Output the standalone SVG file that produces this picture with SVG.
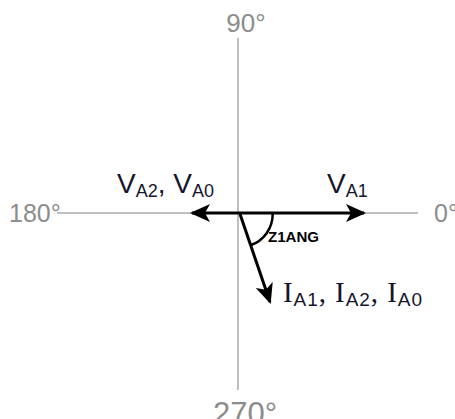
<svg xmlns="http://www.w3.org/2000/svg" width="455" height="419" viewBox="0 0 455 419">
<style>
.axis{stroke:#ababab;stroke-width:1.5;fill:none}
.deg{font-family:"Liberation Sans",Arial,sans-serif;fill:#8c8c8c}
.vec{stroke:#000;stroke-width:3;fill:none}
.lbl{font-family:"Liberation Sans",Arial,sans-serif;fill:#15152e;font-size:28px}
.sub{font-size:18px}
.ilbl{font-family:"Liberation Serif","Times New Roman",serif;fill:#15152e;font-size:29px}
.isub{font-family:"Liberation Sans",Arial,sans-serif;font-size:19px}
</style>
<defs>
<marker id="ah" viewBox="0 0 20 18" refX="18" refY="9" markerWidth="20" markerHeight="18" markerUnits="userSpaceOnUse" orient="auto">
<path d="M0,0 L20,9 L0,18 L5,9 Z" fill="#000"/>
</marker>
</defs>
<g id="axes">
<line class="axis" x1="238" y1="38" x2="238" y2="390"/>
<line class="axis" x1="57" y1="213" x2="418" y2="213"/>
</g>
<g id="label-90"><text class="deg" x="246" y="32" font-size="26" text-anchor="middle">90°</text></g>
<g id="label-180"><text class="deg" x="9" y="222" font-size="25">180°</text></g>
<g id="label-0"><text class="deg" x="434" y="222" font-size="25">0°</text></g>
<g id="label-270"><text class="deg" x="245" y="424" font-size="31" text-anchor="middle">270°</text></g>
<g id="connectors">
<line class="vec" x1="238" y1="213" x2="192" y2="213" marker-end="url(#ah)"/>
<line class="vec" x1="238" y1="213" x2="364" y2="213" marker-end="url(#ah)"/>
<line class="vec" x1="240" y1="214" x2="270" y2="302" marker-end="url(#ah)"/>
<path d="M272.7,214 A33,33 0 0 1 250.5,245.3" stroke="#000" stroke-width="2.5" fill="none"/>
</g>
<g id="angle-label"><text x="268" y="242" font-family="'Liberation Sans',Arial,sans-serif" font-weight="bold" font-size="14" fill="#000" textLength="51" lengthAdjust="spacingAndGlyphs">Z1ANG</text></g>
<g id="label-va2-va0"><text class="lbl" x="117" y="193">V<tspan class="sub" dy="4">A2</tspan><tspan dy="-4">, V</tspan><tspan class="sub" dy="4">A0</tspan></text></g>
<g id="label-va1"><text class="lbl" x="327" y="193">V<tspan class="sub" dy="4">A1</tspan></text></g>
<g id="label-i"><text class="ilbl" x="283" y="302" textLength="139" lengthAdjust="spacing">I<tspan class="isub" dy="4">A1</tspan><tspan dy="-4">,  I</tspan><tspan class="isub" dy="4">A2</tspan><tspan dy="-4">,  I</tspan><tspan class="isub" dy="4">A0</tspan></text></g>
</svg>
